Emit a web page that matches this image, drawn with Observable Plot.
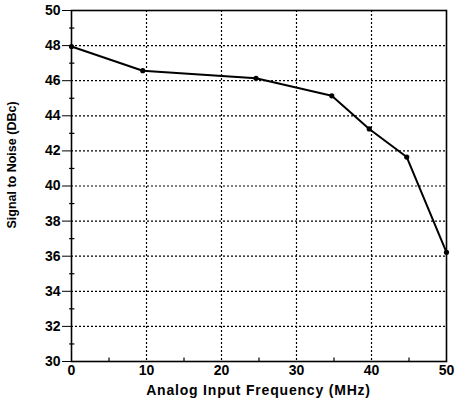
<!DOCTYPE html>
<html>
<head>
<meta charset="utf-8">
<script src="https://cdn.jsdelivr.net/npm/d3@7"></script>
<script src="https://cdn.jsdelivr.net/npm/@observablehq/plot@0.6"></script>
<style>
  html, body { margin: 0; padding: 0; background: #fff; }
  #chart svg { display: block; }
</style>
</head>
<body>
<div id="chart"></div>
<script>
const freqMHz = [0, 9.5, 24.6, 34.7, 39.7, 44.7, 50];
const snrDBc = [47.95, 46.57, 46.14, 45.14, 43.25, 41.65, 36.22];
const xTicks = [0, 10, 20, 30, 40, 50];
const yTicks = [30, 32, 34, 36, 38, 40, 42, 44, 46, 48, 50];
const xMinor = [5, 15, 25, 35, 45];
const yMinor = [31, 33, 35, 37, 39, 41, 43, 45, 47, 49];
const xGrid = [10, 20, 30, 40];
const yGrid = [32, 34, 36, 38, 40, 42, 44, 46, 48];

const data = freqMHz.map((f, i) => ({f, s: snrDBc[i]}));

const chart = Plot.plot({
  width: 458,
  height: 404,
  marginLeft: 71,
  marginRight: 12,
  marginTop: 10,
  marginBottom: 43,
  style: {fontFamily: "'Liberation Sans', Arial, sans-serif", fontWeight: "bold", fontSize: "14px", color: "#000", background: "#fff"},
  x: {domain: [0, 50], label: null},
  y: {domain: [30, 50], label: null},
  marks: [
    Plot.ruleX(xGrid, {stroke: "#000", strokeWidth: 1.2, strokeDasharray: "2,2"}),
    Plot.ruleY(yGrid, {stroke: "#000", strokeWidth: 1.2, strokeDasharray: "2,2"}),
    Plot.ruleY(yMinor, {x1: -0.25, x2: 0.45, stroke: "#000", strokeWidth: 1.2, clip: false}),
    Plot.ruleX(xMinor, {y1: 30, y2: 30.2, stroke: "#000", strokeWidth: 1.2}),
    Plot.axisX(xTicks, {tickSize: 0, tickPadding: 4, fill: "#000", fontSize: 14, label: null, tickFormat: d => String(d)}),
    Plot.axisY(yTicks, {tickSize: 9, tickPadding: 2, fill: "#000", fontSize: 14, label: null, tickFormat: d => String(d)}),
    Plot.frame({stroke: "#000", strokeWidth: 1.6}),
    Plot.line(data, {x: "f", y: "s", stroke: "#000", strokeWidth: 2}),
    Plot.dot(data, {x: "f", y: "s", r: 2.6, fill: "#000", stroke: "none"})
  ]
});

const svg = d3.select(chart);
svg.append("text")
  .attr("x", (71 + 446) / 2)
  .attr("y", 391)
  .attr("text-anchor", "middle")
  .attr("dominant-baseline", "middle")
  .attr("fill", "#000")
  .attr("font-size", 14)
  .attr("font-weight", "bold")
  .attr("letter-spacing", "0.8px")
  .text("Analog Input Frequency (MHz)");
svg.append("text")
  .attr("transform", `translate(13,165) rotate(-90)`)
  .attr("text-anchor", "middle")
  .attr("dominant-baseline", "middle")
  .attr("fill", "#000")
  .attr("font-size", 12.5)
  .attr("font-weight", "bold")
  .text("Signal to Noise (DBc)");

document.getElementById("chart").appendChild(chart);
</script>
</body>
</html>
